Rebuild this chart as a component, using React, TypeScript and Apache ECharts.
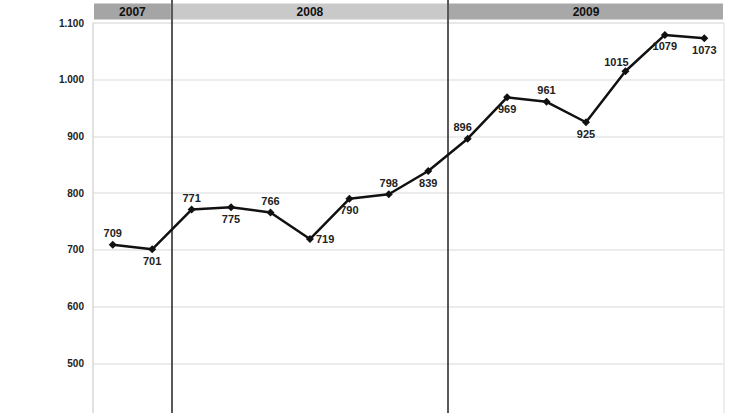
import React, { useEffect, useRef } from "react";
import * as echarts from "echarts";

const categories = ["P1", "P2", "P3", "P4", "P5", "P6", "P7", "P8", "P9", "P10", "P11", "P12", "P13", "P14", "P15", "P16"];
const values = [709, 701, 771, 775, 766, 719, 790, 798, 839, 896, 969, 961, 925, 1015, 1079, 1073];
const years = ["2007", "2008", "2009"];
const yearSpans = [2, 7, 7];
const yMin = 400;
const yMax = 1100;
const yInterval = 100;

const yearColors = ["#a5a5a5", "#c9c9c9", "#a8a8a8"];
const labelPlacement = ["top", "bottom", "top", "bottom", "top", "right", "bottom", "top", "bottom", "top", "bottom", "top", "bottom", "top", "bottom", "bottom"];
const labelShift: Record<number, number[]> = { 9: [-5, 0], 13: [-9, 2] };

export default function App() {
  const ref = useRef<HTMLDivElement>(null);
  useEffect(() => {
    if (!ref.current) return;
    const chart = echarts.init(ref.current, null, { renderer: "svg" });
    const total = yearSpans.reduce((a, b) => a + b, 0);
    const boundaries: number[] = [];
    let acc = 0;
    for (let i = 0; i < yearSpans.length - 1; i++) {
      acc += yearSpans[i];
      boundaries.push(acc);
    }
    const fmt = (v: number) => {
      const s = String(v);
      return s.length > 3 ? s.slice(0, s.length - 3) + "." + s.slice(s.length - 3) : s;
    };
    const font = "Arial, 'Liberation Sans', sans-serif";
    chart.setOption({
      animation: false,
      textStyle: { fontFamily: font },
      grid: [
        { left: 93, right: 11, top: 23, height: 397, show: true, borderColor: "#dcdcdc", borderWidth: 1 },
        { left: 93, right: 11, top: 0, height: 23 },
        { left: 93, right: 11, top: 0, height: 420 },
      ],
      xAxis: [
        {
          gridIndex: 0, type: "category", data: categories, boundaryGap: true,
          axisLine: { show: false }, axisTick: { show: false }, axisLabel: { show: false }, splitLine: { show: false },
        },
        { gridIndex: 1, type: "value", min: 0, max: total, show: false },
        { gridIndex: 2, type: "value", min: 0, max: total, show: false },
      ],
      yAxis: [
        {
          gridIndex: 0, type: "value", min: yMin, max: yMax, interval: yInterval,
          axisLine: { show: true, lineStyle: { color: "#dcdcdc", width: 1.5 } },
          axisTick: { show: false },
          axisLabel: { formatter: fmt, fontSize: 10, fontWeight: "bold", color: "#222", margin: 9, fontFamily: font },
          splitLine: { lineStyle: { color: "#e6e6e6", width: 1.5 } },
        },
        { gridIndex: 1, type: "category", data: ["year"], show: false },
        { gridIndex: 2, type: "value", min: 0, max: 1, show: false },
      ],
      series: [
        ...years.map((y, i) => ({
          type: "bar", name: y, xAxisIndex: 1, yAxisIndex: 1, stack: "years",
          data: [yearSpans[i]], barWidth: 18,
          itemStyle: { color: yearColors[i], borderColor: "#fff", borderWidth: 1 },
          label: { show: true, position: "inside", formatter: y, fontWeight: "bold", fontSize: 12, color: "#111", fontFamily: font },
        })),
        {
          type: "line", xAxisIndex: 2, yAxisIndex: 2, data: [], z: 5,
          markLine: {
            silent: true, symbol: ["none", "none"], label: { show: false },
            lineStyle: { color: "#222", width: 1.5, type: "solid" },
            data: boundaries.map((b) => ({ xAxis: b })),
          },
        },
        {
          type: "line", xAxisIndex: 0, yAxisIndex: 0, z: 10,
          data: values.map((v, i) => ({
            value: v,
            label: { position: labelPlacement[i], offset: labelShift[i] || [0, 0] },
          })),
          symbol: "diamond", symbolSize: 8,
          lineStyle: { color: "#111", width: 2.5 },
          itemStyle: { color: "#111" },
          label: { show: true, distance: 2, fontSize: 11, fontWeight: "bold", color: "#222", fontFamily: font },
        },
      ],
    });
    return () => chart.dispose();
  }, []);
  return (
    <div style={{ position: "absolute", left: 0, top: 0, width: 735, height: 413, overflow: "hidden" }}>
      <div ref={ref} style={{ width: 735, height: 440 }} />
    </div>
  );
}
